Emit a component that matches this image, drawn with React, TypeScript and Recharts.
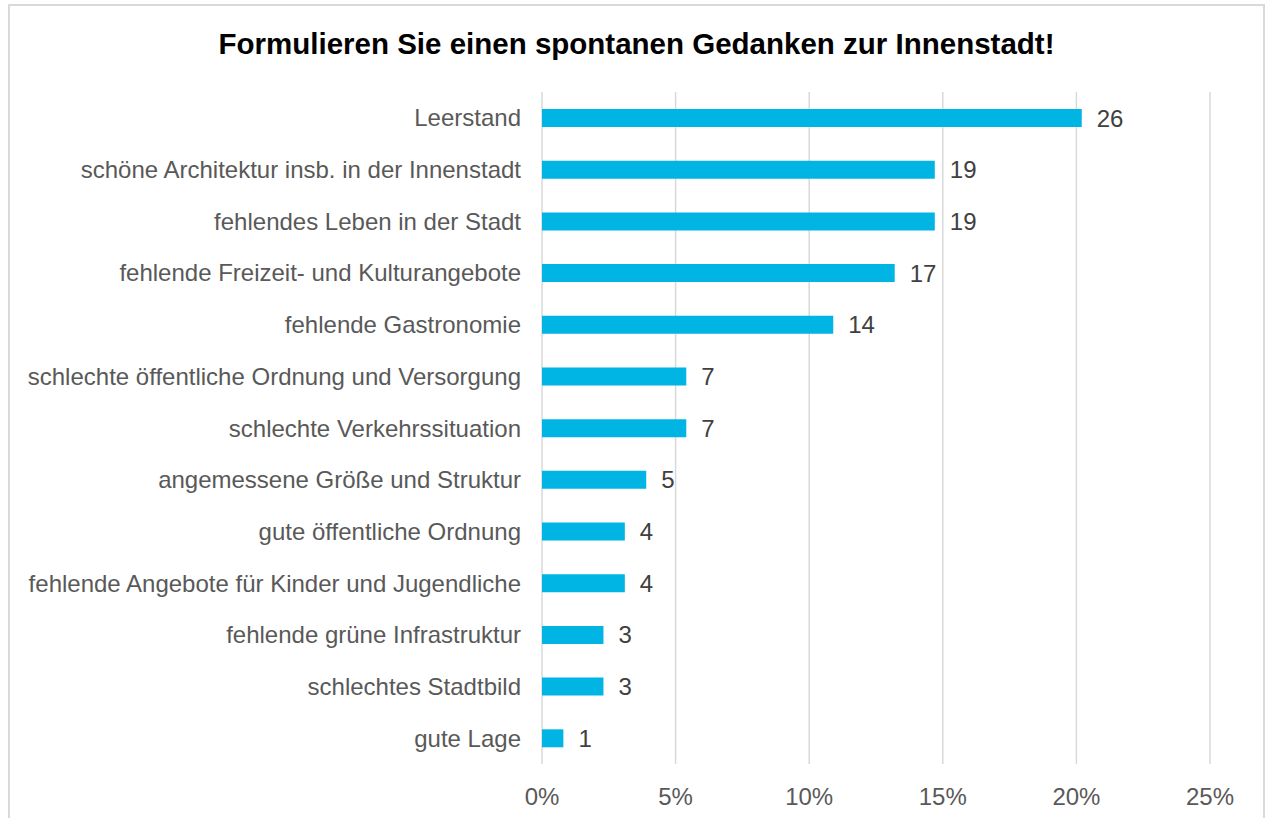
import { Bar, BarChart, CartesianGrid, LabelList, XAxis, YAxis } from "recharts";

const categories = [
  "Leerstand",
  "schöne Architektur insb. in der Innenstadt",
  "fehlendes Leben in der Stadt",
  "fehlende Freizeit- und Kulturangebote",
  "fehlende Gastronomie",
  "schlechte öffentliche Ordnung und Versorgung",
  "schlechte Verkehrssituation",
  "angemessene Größe und Struktur",
  "gute öffentliche Ordnung",
  "fehlende Angebote für Kinder und Jugendliche",
  "fehlende grüne Infrastruktur",
  "schlechtes Stadtbild",
  "gute Lage",
];

// number of mentions (bar labels)
const counts = [26, 19, 19, 17, 14, 7, 7, 5, 4, 4, 3, 3, 1];

// share of answers in percent (bar length)
const shares = [20.2, 14.7, 14.7, 13.2, 10.9, 5.4, 5.4, 3.9, 3.1, 3.1, 2.3, 2.3, 0.8];

const xTicks = [0, 5, 10, 15, 20, 25];

const data = categories.map((name, i) => ({
  name,
  share: shares[i],
  count: counts[i],
}));

const font = '"Liberation Sans", Arial, sans-serif';

export default function App() {
  return (
    <div
      style={{
        position: "fixed",
        left: 8,
        top: 4,
        width: 1253,
        height: 830,
        border: "2px solid #d9d9d9",
        background: "#fff",
        fontFamily: font,
      }}
    >
      <div
        style={{
          position: "absolute",
          top: 23,
          left: 0,
          width: "100%",
          textAlign: "center",
          fontSize: 29.5,
          lineHeight: "29px",
          fontWeight: "bold",
          color: "#000",
        }}
      >
        Formulieren Sie einen spontanen Gedanken zur Innenstadt!
      </div>
      <BarChart
        width={1253}
        height={812}
        data={data}
        layout="vertical"
        margin={{ top: 86, right: 53, bottom: 22, left: 0 }}
        barCategoryGap={0}
        style={{ fontFamily: font }}
      >
        <CartesianGrid horizontal={false} stroke="#d9d9d9" strokeWidth={1.5} />
        <XAxis
          type="number"
          domain={[0, 25]}
          ticks={xTicks}
          tickFormatter={(v: number) => `${v}%`}
          axisLine={false}
          tickLine={false}
          tickSize={0}
          tickMargin={24}
          height={32}
          tick={{ fontSize: 24, fill: "#595959" }}
          interval={0}
        />
        <YAxis
          type="category"
          dataKey="name"
          width={532}
          axisLine={false}
          tickLine={false}
          tickSize={0}
          tickMargin={21}
          interval={0}
          tick={{ fontSize: 24, fill: "#595959" }}
        />
        <Bar dataKey="share" fill="#00b4e4" barSize={18} isAnimationActive={false}>
          <LabelList
            dataKey="count"
            position="right"
            offset={15}
            style={{ fontSize: 24, fill: "#404040", fontFamily: font }}
          />
        </Bar>
      </BarChart>
    </div>
  );
}
